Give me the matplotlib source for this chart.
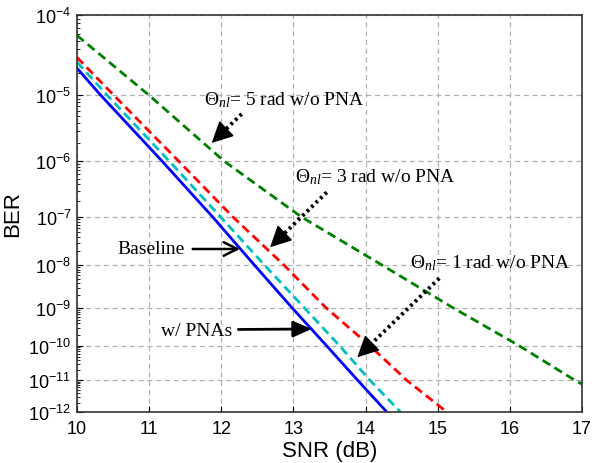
import numpy as np
import matplotlib
matplotlib.use("Agg")
import matplotlib.pyplot as plt
from matplotlib.ticker import FixedLocator, FuncFormatter, LogLocator, NullFormatter

plt.rcParams['mathtext.fontset'] = 'custom'
plt.rcParams['mathtext.rm'] = 'Liberation Serif'
plt.rcParams['mathtext.it'] = 'Liberation Serif:italic'
plt.rcParams['mathtext.bf'] = 'Liberation Serif:bold'

# ---- data ----
snr_pna = [10.0, 10.33, 11.18, 11.88, 12.46, 12.98, 13.46, 13.89, 14.29]
ber_pna = [2.3e-5, 1e-5, 1e-6, 1e-7, 1e-8, 1e-9, 1e-10, 1e-11, 1e-12]

snr_th1 = [10.0, 10.42, 11.28, 11.99, 12.60, 13.15, 13.64, 14.06, 14.48]
ber_th1 = [2.75e-5, 1e-5, 1e-6, 1e-7, 1e-8, 1e-9, 1e-10, 1e-11, 1e-12]

snr_th3 = [10.0, 10.51, 11.41, 12.16, 12.87, 13.45, 14.06, 14.57, 15.12]
ber_th3 = [3.15e-5, 1e-5, 1e-6, 1e-7, 1e-8, 1e-9, 1e-10, 1e-11, 1e-12]

snr_th5 = [10.0, 11.0, 12.04, 13.11, 14.23, 15.21, 16.13, 16.90, 17.0]
ber_th5 = [5.8e-5, 1e-5, 1e-6, 1e-7, 1e-8, 1e-9, 1e-10, 1e-11, 7.6e-12]

x_ticks = [10, 11, 12, 13, 14, 15, 16, 17]
y_ticks = [1e-4, 1e-5, 1e-6, 1e-7, 1e-8, 1e-9, 1e-10, 1e-11, 1e-12]


def fwd(y):
    y = np.asarray(y, dtype=float)
    with np.errstate(all='ignore'):
        y = np.clip(y, 1e-300, 0.999999)
        return -np.log10(-np.log10(y))


def inv(t):
    t = np.asarray(t, dtype=float)
    with np.errstate(all='ignore'):
        return 10.0 ** (-(10.0 ** (-t)))


fig = plt.figure(figsize=(5.95, 4.64), dpi=100)
ax = fig.add_axes([0.1294, 0.1106, 0.8488, 0.8556])
ax.set_yscale('function', functions=(fwd, inv))

lw = 2.0
ax.plot(snr_th5, ber_th5, color='#008000', lw=lw, ls=(0, (3.2, 1.8)))
ax.plot(snr_th3, ber_th3, color='#ff0000', lw=lw, ls=(0, (3.2, 1.8)))
ax.plot(snr_th1, ber_th1, color='#00bfbf', lw=lw, ls=(0, (3.2, 1.8)))
ax.plot(snr_pna, ber_pna, color='#0000ff', lw=lw, ls='-')

ax.set_xlim(10, 17)
ax.set_ylim(1e-12, 1e-4)

ax.xaxis.set_major_locator(FixedLocator(x_ticks))
ax.yaxis.set_major_locator(FixedLocator(y_ticks))
ax.yaxis.set_minor_locator(LogLocator(base=10, subs=np.arange(2, 10)))
ax.yaxis.set_minor_formatter(NullFormatter())


def yfmt(v, pos):
    e = int(round(np.log10(v)))
    return r'$\mathregular{10^{%d}}$' % e


ax.yaxis.set_major_formatter(FuncFormatter(yfmt))
ax.xaxis.set_major_formatter(FuncFormatter(lambda v, p: '%d' % v))

for lab in ax.get_xticklabels() + ax.get_yticklabels():
    lab.set_fontfamily('Liberation Sans')
    lab.set_fontsize(13)

ax.tick_params(axis='both', which='major', direction='in', length=4, width=0.8, pad=6)
ax.tick_params(axis='y', which='minor', direction='in', length=2.5, width=0.6)
ax.tick_params(axis='y', which='major', pad=4)

ax.grid(True, which='major', color='#b0b0b0', ls=(0, (4, 3)), lw=0.9)
ax.set_axisbelow(True)
for s in ax.spines.values():
    s.set_linewidth(1.2)
    s.set_color('#333333')

ax.set_xlabel('SNR (dB)', fontsize=16, family='Liberation Sans', labelpad=2)
ax.set_ylabel('BER', fontsize=16, family='Liberation Sans', labelpad=4)

tfont = dict(fontsize=14, family='Liberation Serif')

ax.text(0.2515, 0.7877, r'$\Theta_{nl}$= 5 rad w/o PNA', transform=ax.transAxes,
        ha='left', va='center', **tfont)
ax.text(0.4317, 0.5945, r'$\Theta_{nl}$= 3 rad w/o PNA', transform=ax.transAxes,
        ha='left', va='center', **tfont)
ax.text(0.6594, 0.3763, r'$\Theta_{nl}$= 1 rad w/o PNA', transform=ax.transAxes,
        ha='left', va='center', **tfont)
ax.text(0.2139, 0.4098, 'Baseline', transform=ax.transAxes,
        ha='right', va='center', **tfont)
ax.text(0.3075, 0.204, 'w/ PNAs', transform=ax.transAxes,
        ha='right', va='center', **tfont)


def dotted_arrow(start, tip):
    ax.annotate('', xy=tip, xytext=start, xycoords='axes fraction', textcoords='axes fraction',
                arrowprops=dict(arrowstyle='-', ls=(0, (0.7, 0.9)), lw=2.8, color='black',
                                capstyle='butt', shrinkA=0, shrinkB=8))
    # solid head
    p0 = ax.transAxes.transform(start)
    p1 = ax.transAxes.transform(tip)
    d = (p0 - p1) / np.hypot(*(p0 - p1))
    ax.annotate('', xy=tip, xytext=(d[0] * 13, d[1] * 13), xycoords='axes fraction',
                textcoords='offset pixels',
                arrowprops=dict(arrowstyle='-|>,head_length=0.9,head_width=0.45', lw=1.0,
                                color='black', shrinkA=0, shrinkB=0, mutation_scale=15))


dotted_arrow((0.3261, 0.7499), (0.2667, 0.6768))
dotted_arrow((0.4945, 0.5526), (0.3822, 0.4141))
dotted_arrow((0.7174, 0.3360), (0.5550, 0.1370))

ax.annotate('', xy=(0.3228, 0.4098), xytext=(0.2291, 0.4098), xycoords='axes fraction',
            textcoords='axes fraction',
            arrowprops=dict(arrowstyle='->,head_length=0.7,head_width=0.35', lw=1.8,
                            color='black', shrinkA=0, shrinkB=0, mutation_scale=14))
ax.annotate('', xy=(0.4648, 0.2083), xytext=(0.3194, 0.2071), xycoords='axes fraction',
            textcoords='axes fraction',
            arrowprops=dict(arrowstyle='-|>,head_length=0.8,head_width=0.35', lw=2.0,
                            color='black', shrinkA=0, shrinkB=0, mutation_scale=14))

fig.savefig('out.png', dpi=100)
